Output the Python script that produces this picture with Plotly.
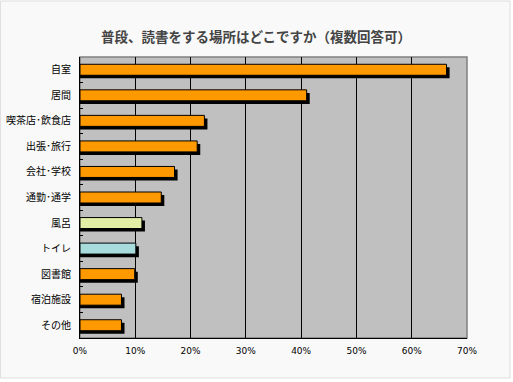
import plotly.graph_objects as go

categories = ["自室", "居間", "喫茶店･飲食店", "出張･旅行", "会社･学校", "通勤･通学",
              "風呂", "トイレ", "図書館", "宿泊施設", "その他"]
values = [66.3, 41.0, 22.5, 21.2, 17.1, 14.7, 11.2, 10.1, 9.9, 7.5, 7.5]
bar_colors = ["#FF9900", "#FF9900", "#FF9900", "#FF9900", "#FF9900", "#FF9900",
              "#E2EDA6", "#A8DCDC", "#FF9900", "#FF9900", "#FF9900"]
x_ticks = [0, 10, 20, 30, 40, 50, 60, 70]
x_tick_labels = ["0%", "10%", "20%", "30%", "40%", "50%", "60%", "70%"]
title_text = "普段、読書をする場所はどこですか（複数回答可）"

W = 0.43
SH_X = 0.55
SH_Y = 0.12

fig = go.Figure()
fig.add_trace(go.Bar(
    y=categories, x=[v + SH_X for v in values], orientation="h",
    marker=dict(color="#000000", line=dict(width=0)),
    width=W, offset=-W / 2 + SH_Y, hoverinfo="skip", showlegend=False,
))
fig.add_trace(go.Bar(
    y=categories, x=values, orientation="h",
    marker=dict(color=bar_colors, line=dict(color="#000000", width=1)),
    width=W, offset=-W / 2, showlegend=False,
))

# plot-area geometry in pixels
L, R, T, B = 80.5, 467, 57, 338
pw, ph = R - L, B - T

def px_x(X):
    return (X - L) / pw

def px_y(Y):
    return (B - Y) / ph

fig.update_layout(
    width=513, height=382,
    margin=dict(l=80, r=46, t=57, b=44, autoexpand=False),
    paper_bgcolor="#FFFFFF",
    plot_bgcolor="#C0C0C0",
    barmode="overlay",
    hovermode=False,
    font=dict(family="Noto Sans CJK JP, sans-serif", size=10, color="#000000"),
    title=dict(text=title_text, x=256 / 513, xanchor="center", xref="container",
               y=1 - 37 / 382, yanchor="middle", automargin=False,
               font=dict(family="Noto Sans CJK JP, sans-serif", size=13.5, color="#444444", weight="bold")),
    xaxis=dict(range=[0, 70], tickvals=x_ticks, ticktext=x_tick_labels,
               showgrid=True, gridcolor="#000000", gridwidth=1,
               showline=True, linecolor="#000000", linewidth=1,
               ticks="", zeroline=False, fixedrange=True, automargin=False,
               ticklabelstandoff=4,
               tickfont=dict(family="DejaVu Sans, sans-serif", size=9, color="#000000")),
    yaxis=dict(autorange="reversed", type="category", automargin=False,
               showgrid=False, showline=True, linecolor="#000000", linewidth=1,
               ticks="inside", ticklen=3, tickcolor="#000000", tickson="boundaries",
               ticklabelstandoff=6, fixedrange=True),
    shapes=[
        dict(type="rect", xref="paper", yref="paper", layer="below",
             x0=px_x(1), x1=px_x(510), y0=px_y(378), y1=px_y(1),
             fillcolor="#F9F9F9", line=dict(color="#DDDDDD", width=1)),
        dict(type="rect", xref="paper", yref="paper", layer="below",
             x0=0, x1=1, y0=0, y1=1,
             fillcolor="#C0C0C0", line=dict(color="#808080", width=1.5)),
    ],
)

fig.write_html("out.html", config={"displayModeBar": False},
               post_script="document.body.style.margin='0';")
